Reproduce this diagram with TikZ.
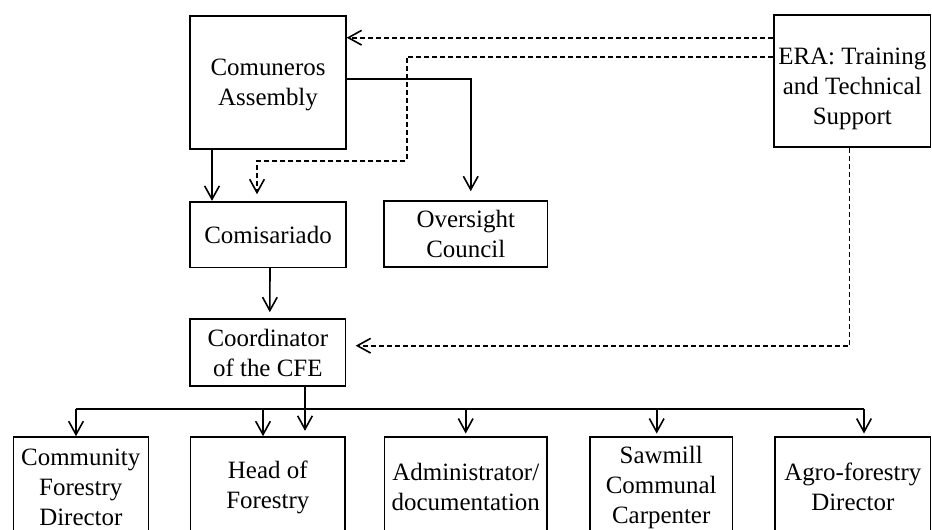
\documentclass[tikz,border=0pt]{standalone}
\usepackage{fontspec}
\setmainfont{Liberation Serif}
\usetikzlibrary{arrows.meta}
\begin{document}
\begin{tikzpicture}[x=0.75pt,y=-0.75pt,
 box/.style={draw, line width=1.2pt, inner sep=0pt, align=center, font=\fontsize{18.7}{22.5}\selectfont},
 txt/.style={inner sep=0pt, align=center, font=\fontsize{18.7}{22.5}\selectfont},
 conn/.style={line width=1.2pt, -{Straight Barb[length=10pt,width=11pt,line width=1.2pt]}},
 sline/.style={line width=1.2pt},
 dconn/.style={conn, dash pattern=on 3.75pt off 2.25pt}]
\useasboundingbox (0,0) rectangle (932,529);
\clip (0,0) rectangle (932,529);
% boxes
\node[box, minimum width=116.8pt, minimum height=99.75pt] (ca) at (268,82.5) {};
\node[txt] (caT) at ([yshift=-2pt]ca.center) {Comuneros\\Assembly};
\node[box, minimum width=117.5pt, minimum height=99pt] (era) at (852.3,80.7) {};
\node[txt] (eraT) at ([yshift=-6pt]era.center) {ERA: Training\\and Technical\\Support};
\node[box, minimum width=116.8pt, minimum height=49.2pt] (com) at (268,234.5) {Comisariado};
\node[box, minimum width=122.8pt, minimum height=49.5pt] (ov) at (465.8,233.7) {Oversight\\Council};
\node[box, minimum width=116.6pt, minimum height=50.25pt] (coord) at (267.8,352.5) {Coordinator\\of the CFE};
\node[box, minimum width=101.25pt, minimum height=75pt] (b1) at (80.8,487) {Community\\Forestry\\Director};
\node[box, minimum width=115.7pt, minimum height=75pt] (b2) at (267.8,487) {Head of\\Forestry};
\node[box, minimum width=122.2pt, minimum height=75pt] (b3) at (465.8,487) {Administrator/\\documentation};
\node[box, minimum width=106.7pt, minimum height=75pt] (b4) at (661.2,487) {Sawmill\\Communal\\Carpenter};
\node[box, minimum width=116.8pt, minimum height=75pt] (b5) at (852.8,487) {Agro-forestry\\Director};
% coordinates
\coordinate (d1) at (406.7,161);
\coordinate (d2) at (257,161);
\coordinate (k1) at (76,409);
\coordinate (k2) at (263,409);
\coordinate (k3) at (465.7,409);
\coordinate (k4) at (656.7,409);
\coordinate (k5) at (864,409);
% connectors
\draw[conn] ([xshift=-42pt]ca.south) -- ([xshift=-42pt]com.north);
\draw[conn, shorten >=6.5pt] ([yshift=2.6pt]ca.east) -| ([xshift=3.7pt]ov.north);
\draw[dconn] ([yshift=32.25pt]era.west) -- ([yshift=32.25pt]era.west -| ca.east);
\draw[dconn, shorten >=5pt] ([yshift=18pt]era.west) -| (d1) -- (d2) -- (d2 |- com.north);
\draw[conn, shorten >=4.5pt] ([xshift=1.5pt]com.south) -- ([xshift=1.5pt]coord.north);
\draw[dconn, shorten >=7pt] ([xshift=-2.25pt]era.south) |- ([yshift=5.1pt]coord.east);
\draw[conn, shorten >=4pt] ([xshift=27.9pt]coord.south) -- ([xshift=27.9pt]coord.south |- b2.north);
\draw[sline] (k1) -- (k5);
\draw[conn] (k1) -- (k1 |- b1.north);
\draw[conn] (k2) -- (k2 |- b2.north);
\draw[conn, shorten >=2pt] (k3) -- (k3 |- b3.north);
\draw[conn, shorten >=2pt] (k4) -- (k4 |- b4.north);
\draw[conn, shorten >=2pt] (k5) -- (k5 |- b5.north);
\end{tikzpicture}
\end{document}
